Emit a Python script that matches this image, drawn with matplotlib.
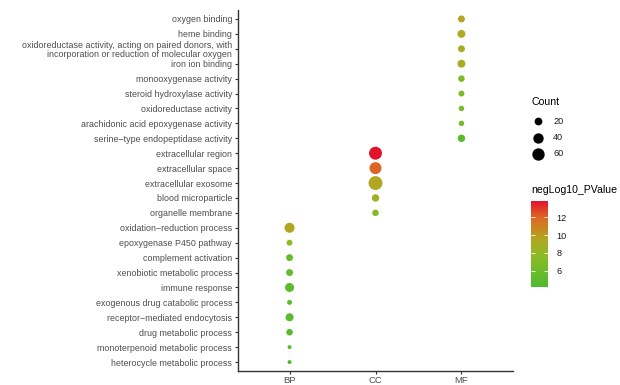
import numpy as np
import matplotlib
matplotlib.use("Agg")
import matplotlib.pyplot as plt
from matplotlib.colors import LinearSegmentedColormap, Normalize

plt.rcParams['font.family'] = ['Liberation Sans', 'DejaVu Sans']

# GO terms, top to bottom as in the chart
terms = ["oxygen binding", "heme binding",
         "oxidoreductase activity, acting on paired donors, with\nincorporation or reduction of molecular oxygen",
         "iron ion binding", "monooxygenase activity", "steroid hydroxylase activity",
         "oxidoreductase activity", "arachidonic acid epoxygenase activity",
         "serine\u2212type endopeptidase activity",
         "extracellular region", "extracellular space", "extracellular exosome",
         "blood microparticle", "organelle membrane",
         "oxidation\u2212reduction process", "epoxygenase P450 pathway", "complement activation",
         "xenobiotic metabolic process", "immune response", "exogenous drug catabolic process",
         "receptor\u2212mediated endocytosis", "drug metabolic process",
         "monoterpenoid metabolic process", "heterocycle metabolic process"]
category = ["MF"] * 9 + ["CC"] * 5 + ["BP"] * 10
count = [15, 21, 15, 21, 13, 10, 8, 8, 18,
         67, 56, 78, 18, 13,
         37, 10, 15, 15, 29, 6, 22, 13, 3, 3]
neglog10_p = [9.6, 9.3, 8.9, 9.1, 7.0, 6.6, 6.5, 6.5, 5.0,
              13.8, 12.0, 9.5, 8.6, 7.3,
              9.6, 7.6, 5.6, 5.5, 5.2, 5.1, 4.9, 4.8, 4.6, 4.2]
x_cats = ["BP", "CC", "MF"]
count_breaks = [20, 40, 60]
color_breaks = [6, 8, 10, 12]

cmap = LinearSegmentedColormap.from_list(
    "gr", [(0.0, "#4CBB2E"), (0.35, "#8ABB27"), (0.55, "#B0A820"),
           (0.8, "#DC6A22"), (1.0, "#E3132D")])
norm = Normalize(vmin=min(neglog10_p), vmax=max(neglog10_p))


def size_pts(c):
    d_px = 1.5 + 1.4 * np.sqrt(np.asarray(c, dtype=float))
    return (d_px * 0.72) ** 2


fig = plt.figure(figsize=(6.2, 3.85), dpi=100)
ax = fig.add_axes([238 / 620, 1 - 371 / 385, 275 / 620, 361 / 385])

n = len(terms)
ypos = [n - i for i in range(n)]
xpos = [x_cats.index(c) + 1 for c in category]
sc = ax.scatter(xpos, ypos, s=size_pts(count), c=neglog10_p, cmap=cmap, norm=norm,
                linewidths=0, zorder=3)

ax.set_xlim(0.4, 3.6)
ax.set_ylim(0.4, n + 0.6)
ax.set_xticks([1, 2, 3])
ax.set_xticklabels(x_cats)
ax.set_yticks(ypos)
ax.set_yticklabels(terms, linespacing=1.0)
for sp in ["top", "right"]:
    ax.spines[sp].set_visible(False)
for sp in ["left", "bottom"]:
    ax.spines[sp].set_linewidth(1.0)
    ax.spines[sp].set_color("#333333")
ax.tick_params(axis="both", length=2.2, width=0.8, color="#333333",
               labelcolor="#4D4D4D", labelsize=6.4, pad=2)
ax.tick_params(axis="x", pad=1.5, labelsize=6.8)

# size legend
lax = fig.add_axes([525 / 620, 1 - 165 / 385, 60 / 620, 70 / 385])
lax.set_xlim(0, 60)
lax.set_ylim(165, 95)
lax.axis("off")
lax.text(6, 102, "Count", fontsize=7.6, va="center", ha="left", color="black")
for b, yy in zip(count_breaks, [121, 138, 154]):
    lax.scatter([13], [yy], s=size_pts(b), color="black", linewidths=0)
    lax.text(28, yy, str(b), fontsize=6.6, va="center", ha="left", color="#1a1a1a")

# colour bar
fig.text(531 / 620, 1 - 190 / 385, "negLog10_PValue", fontsize=7.6, va="center", ha="left")
cax = fig.add_axes([531 / 620, 1 - 287 / 385, 17 / 620, 86 / 385])
cb = fig.colorbar(sc, cax=cax, ticks=color_breaks)
cb.outline.set_visible(False)
cax.tick_params(axis="y", direction="in", color="white", length=3, width=0.6,
                left=True, right=True, labelleft=False, labelright=True,
                labelsize=6.6, labelcolor="#1a1a1a", pad=6)

fig.savefig("out.png", dpi=100)
